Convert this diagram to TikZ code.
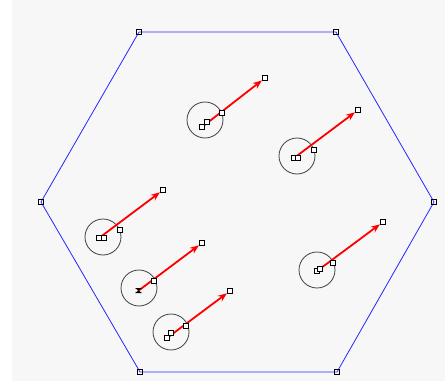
\documentclass[tikz,border=0pt]{standalone}
\usetikzlibrary{arrows.meta}

\tikzset{
  markbox/.style={draw=black, fill=white, line width=0.7pt, inner sep=0pt, minimum size=5.5pt},
  wall/.style={draw=blue!85!white, line width=0.8pt},
  reach/.style={draw=black!75, line width=0.8pt, circle, inner sep=0pt, minimum size=36pt},
  velocity/.style={red, line width=1.8pt, -{Stealth[length=9pt,width=7pt]}}
}

\begin{document}
\begin{tikzpicture}[x=1pt, y=-1pt]
    \useasboundingbox (0,0) rectangle (445,388);
    \fill[black!3] (12,0) rectangle (445,381); % canvas

    % Hexagonal wall
    \node[markbox] (h1) at (139,32) {};
    \node[markbox] (h2) at (336,32) {};
    \node[markbox] (h3) at (434,202) {};
    \node[markbox] (h4) at (337,372) {};
    \node[markbox] (h5) at (140,372) {};
    \node[markbox] (h6) at (41,202) {};
    \draw[wall] (h1.center) -- (h2.center) -- (h3.center) -- (h4.center) -- (h5.center) -- (h6.center) -- cycle;
    \foreach \h in {h1,h2,h3,h4,h5,h6} \node[markbox, fill=none] at (\h) {};

    % Particle near the top
    \node[reach] (c1) at (205,120) {};
    \node[markbox] (e1) at (265,78) {};
    \coordinate (p1) at (202,127);
    \draw[velocity] (p1) -- (e1);
    \node[markbox] at (p1) {};
    \node[markbox] at (207,122) {};
    \node[markbox] at (222,113) {};

    % Particle upper right
    \node[reach] (c2) at (297,156) {};
    \node[markbox] (e2) at (358,110) {};
    \coordinate (p2) at (294,158);
    \draw[velocity] (p2) -- (e2);
    \node[markbox] at (p2) {};
    \node[markbox] at (298,158) {};
    \node[markbox] at (314,150) {};

    % Particle lower right
    \node[reach] (c3) at (317,270) {};
    \node[markbox] (e3) at (383,222) {};
    \coordinate (p3) at (317,271);
    \draw[velocity] (p3) -- (e3);
    \node[markbox] at (p3) {};
    \node[markbox] at (320,269) {};
    \node[markbox] at (333,263) {};

    % Particle on the left
    \node[reach] (c4) at (103,237) {};
    \node[markbox] (e4) at (163,190) {};
    \coordinate (p4) at (99,238);
    \draw[velocity] (p4) -- (e4);
    \node[markbox] at (p4) {};
    \node[markbox] at (104,238) {};
    \node[markbox] at (120,230) {};

    % Particle with the hourglass mark
    \node[reach] (c5) at (139,288) {};
    \node[markbox] (e5) at (202,243) {};
    \coordinate (p5) at (138,291);
    \draw[velocity] (p5) -- (e5);
    \fill (135,288) -- (142,288) -- (138.5,290.5) -- cycle;
    \fill (135,293) -- (142,293) -- (138.5,290.5) -- cycle;
    \node[markbox] at (154,281) {};

    % Particle at the bottom
    \node[reach] (c6) at (171,332) {};
    \node[markbox] (e6) at (230,291) {};
    \coordinate (p6) at (167,338);
    \draw[velocity] (p6) -- (e6);
    \node[markbox] at (p6) {};
    \node[markbox] at (171,333) {};
    \node[markbox] at (186,326) {};
\end{tikzpicture}
\end{document}
